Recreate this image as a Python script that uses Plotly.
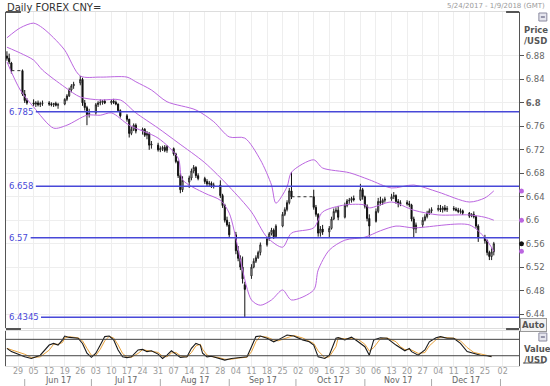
import pandas as pd
import plotly.graph_objects as go

# ---------------- DATA ----------------
title_text = "Daily FOREX CNY="
range_text = "5/24/2017 - 1/9/2018 (GMT)"
holidays = ["2017-05-29", "2017-05-30", "2017-10-02", "2017-10-03",
            "2017-10-04", "2017-10-05", "2017-10-06"]

opens = [6.880, 6.876, 6.868, 6.855, 6.815, 6.804, 6.800, 6.798, 6.800, 6.797,
         6.799, 6.800, 6.798, 6.797, 6.799, 6.796, 6.798, 6.806, 6.812, 6.822,
         6.829, 6.834, 6.840, 6.800, 6.792, 6.780, 6.783, 6.797, 6.800, 6.801,
         6.803, 6.800, 6.803, 6.801, 6.798, 6.787, 6.778, 6.772, 6.748, 6.755,
         6.762, 6.752, 6.755, 6.745, 6.748, 6.728, 6.728, 6.720, 6.722, 6.724,
         6.719, 6.722, 6.713, 6.700, 6.676, 6.652, 6.665, 6.672, 6.684, 6.690,
         6.676, 6.671, 6.666, 6.662, 6.663, 6.659, 6.660, 6.642, 6.625, 6.600,
         6.592, 6.575, 6.548, 6.535, 6.520, 6.490, 6.505, 6.520, 6.530, 6.536,
         6.545, 6.558, 6.568, 6.577, 6.583, 6.572, 6.590, 6.610, 6.618, 6.630,
         6.650, 6.640, 6.622, 6.610, 6.578, 6.585, 6.580, 6.586, 6.602, 6.615,
         6.617, 6.605, 6.625, 6.633, 6.634, 6.637, 6.635, 6.652, 6.640, 6.624,
         6.603, 6.598, 6.615, 6.632, 6.630, 6.634, 6.636, 6.640, 6.642, 6.632,
         6.628, 6.630, 6.628, 6.626, 6.602, 6.585, 6.592, 6.600, 6.606, 6.612,
         6.616, 6.618, 6.620, 6.618, 6.621, 6.618, 6.620, 6.619, 6.617, 6.615,
         6.616, 6.612, 6.607, 6.610, 6.606, 6.590, 6.570, 6.565, 6.545, 6.538,
         6.546]
highs = [6.888, 6.884, 6.870, 6.857, 6.822, 6.808, 6.806, 6.803, 6.804, 6.802,
         6.804, 6.803, 6.801, 6.800, 6.802, 6.800, 6.808, 6.815, 6.826, 6.832,
         6.836, 6.846, 6.843, 6.805, 6.795, 6.790, 6.800, 6.803, 6.806, 6.805,
         6.806, 6.806, 6.807, 6.804, 6.799, 6.789, 6.781, 6.773, 6.760, 6.765,
         6.765, 6.758, 6.757, 6.752, 6.750, 6.735, 6.732, 6.726, 6.727, 6.728,
         6.728, 6.724, 6.715, 6.702, 6.680, 6.675, 6.676, 6.688, 6.694, 6.692,
         6.680, 6.674, 6.670, 6.667, 6.666, 6.664, 6.668, 6.645, 6.628, 6.606,
         6.597, 6.580, 6.556, 6.540, 6.538, 6.495, 6.525, 6.535, 6.540, 6.548,
         6.562, 6.572, 6.580, 6.587, 6.586, 6.593, 6.614, 6.622, 6.634, 6.655,
         6.682, 6.652, 6.626, 6.612, 6.590, 6.592, 6.590, 6.606, 6.620, 6.622,
         6.624, 6.630, 6.636, 6.638, 6.640, 6.642, 6.662, 6.655, 6.642, 6.627,
         6.610, 6.620, 6.638, 6.640, 6.637, 6.640, 6.645, 6.648, 6.644, 6.636,
         6.634, 6.634, 6.633, 6.628, 6.606, 6.596, 6.605, 6.610, 6.616, 6.620,
         6.622, 6.626, 6.626, 6.624, 6.626, 6.624, 6.624, 6.622, 6.621, 6.620,
         6.618, 6.614, 6.612, 6.615, 6.608, 6.593, 6.575, 6.567, 6.548, 6.552,
         6.563]
lows = [6.872, 6.866, 6.850, 6.812, 6.800, 6.797, 6.795, 6.793, 6.794, 6.793,
        6.795, 6.795, 6.794, 6.793, 6.794, 6.790, 6.796, 6.803, 6.810, 6.818,
        6.824, 6.830, 6.795, 6.787, 6.762, 6.775, 6.780, 6.793, 6.796, 6.797,
        6.798, 6.797, 6.798, 6.796, 6.785, 6.775, 6.768, 6.741, 6.745, 6.752,
        6.748, 6.746, 6.742, 6.738, 6.720, 6.722, 6.717, 6.716, 6.718, 6.716,
        6.715, 6.710, 6.697, 6.672, 6.646, 6.648, 6.655, 6.668, 6.680, 6.672,
        6.668, 6.662, 6.658, 6.657, 6.655, 6.654, 6.638, 6.621, 6.596, 6.589,
        6.570, 6.542, 6.530, 6.515, 6.492, 6.4345, 6.500, 6.518, 6.527, 6.534,
        6.540, 6.555, 6.565, 6.574, 6.568, 6.570, 6.588, 6.607, 6.615, 6.627,
        6.636, 6.618, 6.606, 6.572, 6.572, 6.575, 6.570, 6.584, 6.600, 6.612,
        6.600, 6.603, 6.622, 6.628, 6.630, 6.632, 6.633, 6.635, 6.620, 6.598,
        6.572, 6.596, 6.612, 6.625, 6.626, 6.630, 6.633, 6.636, 6.628, 6.622,
        6.624, 6.625, 6.622, 6.598, 6.570, 6.578, 6.588, 6.598, 6.603, 6.609,
        6.612, 6.615, 6.614, 6.613, 6.615, 6.614, 6.616, 6.615, 6.612, 6.611,
        6.609, 6.604, 6.605, 6.603, 6.586, 6.563, 6.560, 6.540, 6.532, 6.532,
        6.540]
closes = [6.876, 6.870, 6.855, 6.815, 6.804, 6.800, 6.798, 6.800, 6.797, 6.799,
          6.800, 6.798, 6.797, 6.799, 6.796, 6.797, 6.806, 6.812, 6.822, 6.829,
          6.832, 6.840, 6.800, 6.792, 6.780, 6.782, 6.797, 6.800, 6.801, 6.803,
          6.800, 6.803, 6.801, 6.798, 6.787, 6.778, 6.772, 6.748, 6.755, 6.762,
          6.752, 6.755, 6.745, 6.748, 6.728, 6.730, 6.720, 6.722, 6.724, 6.719,
          6.726, 6.713, 6.700, 6.676, 6.652, 6.668, 6.672, 6.684, 6.690, 6.676,
          6.671, 6.666, 6.662, 6.663, 6.659, 6.660, 6.642, 6.625, 6.600, 6.592,
          6.575, 6.548, 6.535, 6.520, 6.500, 6.482, 6.520, 6.530, 6.536, 6.545,
          6.558, 6.568, 6.577, 6.583, 6.572, 6.590, 6.610, 6.618, 6.630, 6.650,
          6.640, 6.622, 6.610, 6.578, 6.585, 6.580, 6.586, 6.602, 6.615, 6.617,
          6.605, 6.625, 6.633, 6.634, 6.637, 6.635, 6.652, 6.640, 6.624, 6.603,
          6.590, 6.615, 6.632, 6.630, 6.634, 6.636, 6.640, 6.642, 6.632, 6.628,
          6.630, 6.628, 6.626, 6.602, 6.585, 6.592, 6.600, 6.606, 6.612, 6.616,
          6.618, 6.620, 6.618, 6.621, 6.618, 6.620, 6.619, 6.617, 6.615, 6.616,
          6.612, 6.607, 6.610, 6.606, 6.590, 6.570, 6.565, 6.545, 6.538, 6.546,
          6.560]

upper_dates = ["2017-05-24", "2017-05-30", "2017-06-05", "2017-06-09", "2017-06-14",
               "2017-06-19", "2017-06-26", "2017-07-05", "2017-07-17", "2017-07-21",
               "2017-07-28", "2017-08-04", "2017-08-17", "2017-08-25", "2017-09-01",
               "2017-09-08", "2017-09-15", "2017-09-20", "2017-09-22", "2017-09-27",
               "2017-09-29", "2017-10-09", "2017-10-13", "2017-10-25", "2017-11-03",
               "2017-11-13", "2017-11-23", "2017-12-04", "2017-12-18", "2017-12-25",
               "2017-12-29"]
upper_band = [6.911, 6.928, 6.936, 6.928, 6.911, 6.890, 6.846, 6.844, 6.844, 6.836,
              6.822, 6.802, 6.788, 6.768, 6.742, 6.740, 6.703, 6.660, 6.629, 6.657,
              6.682, 6.703, 6.689, 6.681, 6.669, 6.655, 6.660, 6.648, 6.631, 6.638,
              6.650]

mid_dates = ["2017-05-24", "2017-05-30", "2017-06-05", "2017-06-09", "2017-06-19",
             "2017-06-26", "2017-07-05", "2017-07-14", "2017-07-21", "2017-07-31",
             "2017-08-09", "2017-08-21", "2017-09-01", "2017-09-11", "2017-09-18",
             "2017-09-25", "2017-09-29", "2017-10-09", "2017-10-13", "2017-10-23",
             "2017-11-01", "2017-11-03", "2017-11-13", "2017-11-23", "2017-12-04",
             "2017-12-18", "2017-12-25", "2017-12-29"]
mid_band = [6.895, 6.885, 6.873, 6.856, 6.827, 6.810, 6.805, 6.805, 6.783, 6.757,
            6.732, 6.698, 6.657, 6.614, 6.571, 6.554, 6.578, 6.587, 6.614, 6.626,
            6.626, 6.621, 6.631, 6.617, 6.609, 6.609, 6.605, 6.600]

lower_dates = ["2017-05-24", "2017-05-30", "2017-06-05", "2017-06-14", "2017-06-20",
               "2017-06-29", "2017-07-05", "2017-07-10", "2017-07-18", "2017-07-31",
               "2017-08-09", "2017-08-11", "2017-08-21", "2017-08-28", "2017-09-01",
               "2017-09-11", "2017-09-15", "2017-09-20", "2017-09-25", "2017-09-29",
               "2017-10-09", "2017-10-11", "2017-10-16", "2017-10-23", "2017-11-01",
               "2017-11-08", "2017-11-15", "2017-11-23", "2017-12-18", "2017-12-25",
               "2017-12-29"]
lower_band = [6.870, 6.822, 6.793, 6.757, 6.762, 6.779, 6.779, 6.783, 6.762, 6.740,
              6.706, 6.669, 6.646, 6.634, 6.612, 6.464, 6.455, 6.464, 6.481, 6.464,
              6.481, 6.515, 6.549, 6.566, 6.571, 6.582, 6.590, 6.587, 6.592, 6.570,
              6.547]

level_values = [6.785, 6.658, 6.57, 6.4345]
level_labels = ["6.785", "6.658", "6.57", "6.4345"]

ytick_vals = [6.44, 6.48, 6.52, 6.56, 6.60, 6.64, 6.68, 6.72, 6.76, 6.80, 6.84, 6.88]
ytick_text = ["6.44", "6.48", "6.52", "6.56", "6.6", "6.64", "6.68", "6.72", "6.76",
              "<b>6.8</b>", "6.84", "6.88"]

week_tick_dates = ["2017-05-29", "2017-06-05", "2017-06-12", "2017-06-19", "2017-06-26",
                   "2017-07-03", "2017-07-10", "2017-07-17", "2017-07-24", "2017-07-31",
                   "2017-08-07", "2017-08-14", "2017-08-21", "2017-08-28", "2017-09-04",
                   "2017-09-11", "2017-09-18", "2017-09-25", "2017-10-02", "2017-10-09",
                   "2017-10-16", "2017-10-23", "2017-10-30", "2017-11-06", "2017-11-13",
                   "2017-11-20", "2017-11-27", "2017-12-04", "2017-12-11", "2017-12-18",
                   "2017-12-25", "2018-01-02"]
week_tick_labels = ["29", "05", "12", "19", "26", "03", "10", "17", "24", "31",
                    "07", "14", "21", "28", "04", "11", "18", "25", "02", "09",
                    "16", "23", "30", "06", "13", "20", "27", "04", "11", "18",
                    "25", "02"]

stoch_dates = ["2017-05-24", "2017-05-26", "2017-06-01", "2017-06-04", "2017-06-08",
               "2017-06-12", "2017-06-14", "2017-06-16", "2017-06-18", "2017-06-19",
               "2017-06-21", "2017-06-25", "2017-06-27", "2017-06-29", "2017-07-01",
               "2017-07-03", "2017-07-05", "2017-07-07", "2017-07-09", "2017-07-11",
               "2017-07-13", "2017-07-15", "2017-07-17", "2017-07-19", "2017-07-22",
               "2017-07-24", "2017-07-26", "2017-07-28", "2017-07-31", "2017-08-02",
               "2017-08-04", "2017-08-06", "2017-08-08", "2017-08-10", "2017-08-13",
               "2017-08-15", "2017-08-17", "2017-08-19", "2017-08-20", "2017-08-22",
               "2017-08-24", "2017-08-27", "2017-08-30", "2017-09-02", "2017-09-05",
               "2017-09-09", "2017-09-11", "2017-09-13", "2017-09-15", "2017-09-18",
               "2017-09-21", "2017-09-23", "2017-09-27", "2017-09-30", "2017-10-04",
               "2017-10-07", "2017-10-09", "2017-10-11", "2017-10-14", "2017-10-16",
               "2017-10-19", "2017-10-20", "2017-10-23", "2017-10-26", "2017-10-29",
               "2017-11-01", "2017-11-03", "2017-11-05", "2017-11-08", "2017-11-11",
               "2017-11-15", "2017-11-17", "2017-11-19", "2017-11-21", "2017-11-22",
               "2017-11-25", "2017-11-28", "2017-11-30", "2017-12-03", "2017-12-05",
               "2017-12-08", "2017-12-11", "2017-12-14", "2017-12-17", "2017-12-20",
               "2017-12-23", "2017-12-26", "2017-12-28"]
stoch_k = [47, 35, 16, 10, 22, 59, 65, 59, 78, 92,
           87, 84, 65, 29, 14, 29, 59, 90, 92, 78,
           41, 16, 13, 16, 41, 43, 35, 38, 26, 10,
           22, 38, 26, 14, 16, 47, 65, 59, 29, 16,
           18, 10, 4, 10, 13, 16, 53, 90, 92, 84,
           71, 78, 96, 92, 78, 71, 59, 16, 10, 22,
           84, 86, 78, 88, 71, 53, 22, 78, 86, 84,
           59, 47, 38, 47, 35, 22, 41, 71, 86, 90,
           84, 84, 65, 35, 29, 22, 20, 16]
stoch_levels = [20, 80]

month_labels = ["Jun 17", "Jul 17", "Aug 17", "Sep 17", "Oct 17", "Nov 17", "Dec 17"]
month_starts = ["2017-06-01", "2017-07-01", "2017-08-01", "2017-09-01", "2017-10-01",
                "2017-11-01", "2017-12-01", "2018-01-01"]

# ---------------- GEOMETRY HELPERS ----------------
W, H = 550, 386
ML, MR, MT, MB = 5, 29, 12, 20
PW, PH = W - ML - MR, H - MT - MB


def px_x(p):
    return (p - ML) / PW


def px_y(p):
    return (H - MB - p) / PH


FONT = "DejaVu Sans"
LEVEL_COLOR = "#4848d8"
BAND_COLOR = "#bb66e0"

dates = [d for d in pd.bdate_range("2017-05-24", "2017-12-29")
         if d.strftime("%Y-%m-%d") not in holidays]
assert len(dates) == len(closes) == len(opens) == len(highs) == len(lows)

fig = go.Figure()

# Bollinger-like bands
for bx, by in [(upper_dates, upper_band), (mid_dates, mid_band), (lower_dates, lower_band)]:
    fig.add_trace(go.Scatter(x=bx, y=by, mode="lines", xaxis="x", yaxis="y",
                             line=dict(color=BAND_COLOR, width=1, shape="spline", smoothing=0.8),
                             hoverinfo="skip", showlegend=False))

# dotted lines across holidays
for i in range(len(dates) - 1):
    if (dates[i + 1] - dates[i]).days > 3:
        fig.add_trace(go.Scatter(x=[dates[i], dates[i + 1]], y=[closes[i], opens[i + 1]],
                                 mode="lines", xaxis="x", yaxis="y",
                                 line=dict(color="#333333", width=1, dash="dot"),
                                 hoverinfo="skip", showlegend=False))

fig.add_trace(go.Candlestick(
    x=dates, open=opens, high=highs, low=lows, close=closes,
    xaxis="x", yaxis="y", whiskerwidth=0,
    increasing=dict(line=dict(color="#222222", width=1), fillcolor="#ffffff"),
    decreasing=dict(line=dict(color="#111111", width=1), fillcolor="#111111"),
    showlegend=False))

# stochastic panel
stoch_d = pd.Series(stoch_k, dtype=float).rolling(2, min_periods=1).mean().tolist()
fig.add_trace(go.Scatter(x=stoch_dates, y=stoch_d, mode="lines", xaxis="x2", yaxis="y2",
                         line=dict(color="#e8a23c", width=1), showlegend=False, hoverinfo="skip"))
fig.add_trace(go.Scatter(x=stoch_dates, y=stoch_k, mode="lines", xaxis="x2", yaxis="y2",
                         line=dict(color="#1a1a1a", width=1.1), showlegend=False, hoverinfo="skip"))

shapes = []
annotations = []

# level lines with labels
for val, lab in zip(level_values, level_labels):
    x0 = px_x(6 + len(lab) * 5.2 + 3)
    shapes.append(dict(type="line", xref="paper", yref="y", x0=x0, x1=1, y0=val, y1=val,
                       line=dict(color=LEVEL_COLOR, width=1.5)))
    annotations.append(dict(xref="paper", yref="y", x=px_x(6), y=val, text=lab,
                            showarrow=False, xanchor="left", yanchor="middle",
                            font=dict(family=FONT, size=8.5, color=LEVEL_COLOR)))

# stochastic level lines
for lv in stoch_levels:
    shapes.append(dict(type="line", xref="paper", yref="y2", x0=0, x1=1, y0=lv, y1=lv,
                       line=dict(color="#444444", width=1)))

# corner marks
for xa, xb, yy in [(5, 20, 12), (508, 521, 12), (5, 20, 329), (508, 521, 329)]:
    shapes.append(dict(type="line", xref="paper", yref="paper", x0=px_x(xa), x1=px_x(xb),
                       y0=px_y(yy), y1=px_y(yy), line=dict(color="#555555", width=2)))

# right-side end markers
rx = px_x(523.5)
rdx = 2.5 / PW
rdy = 2.5 / 586.4
for val, col in [(upper_band[-1], BAND_COLOR), (mid_band[-1], BAND_COLOR),
                 (lower_band[-1], BAND_COLOR), (closes[-1], "#111111")]:
    shapes.append(dict(type="circle", xref="paper", yref="y", x0=rx - rdx, x1=rx + rdx,
                       y0=val - rdy, y1=val + rdy, fillcolor=col, line=dict(color=col, width=0)))

# small collapse icons
for yc in [17, 337]:
    shapes.append(dict(type="rect", xref="paper", yref="paper", x0=px_x(541), x1=px_x(549),
                       y0=px_y(yc + 4), y1=px_y(yc - 4), fillcolor="#e6e6ee",
                       line=dict(color="#8a8aa0", width=1)))
    shapes.append(dict(type="line", xref="paper", yref="paper", x0=px_x(543), x1=px_x(547),
                       y0=px_y(yc), y1=px_y(yc), line=dict(color="#444466", width=1)))

# underline for Value /USD
shapes.append(dict(type="line", xref="paper", yref="paper", x0=px_x(525), x1=px_x(546),
                   y0=px_y(363), y1=px_y(363), line=dict(color="#555555", width=1)))

# month separators
for ms in month_starts:
    shapes.append(dict(type="line", xref="x2", yref="paper", x0=ms, x1=ms,
                       y0=px_y(386), y1=px_y(379), line=dict(color="#aaaaaa", width=1)))

# month labels
for i, lab in enumerate(month_labels):
    a = pd.Timestamp(month_starts[i])
    b = pd.Timestamp(month_starts[i + 1])
    annotations.append(dict(xref="x2", yref="paper", x=a + (b - a) / 2, y=px_y(386.5), text=lab,
                            showarrow=False, xanchor="center", yanchor="bottom",
                            font=dict(family=FONT, size=8, color="#666666")))

annotations += [
    dict(xref="paper", yref="paper", x=px_x(4), y=px_y(0), text=title_text, showarrow=False,
         xanchor="left", yanchor="top", font=dict(family=FONT, size=10, color="#333333")),
    dict(xref="paper", yref="paper", x=px_x(549), y=px_y(0.5), text=range_text, showarrow=False,
         xanchor="right", yanchor="top", font=dict(family=FONT, size=7, color="#9a9a9a")),
    dict(xref="paper", yref="paper", x=px_x(524), y=px_y(23), text="<b>Price<br>/USD</b>",
         showarrow=False, xanchor="left", yanchor="top", align="left",
         font=dict(family=FONT, size=8.5, color="#555555")),
    dict(xref="paper", yref="paper", x=px_x(536), y=px_y(325), text="<b>Auto</b>",
         showarrow=False, xanchor="center", yanchor="middle", bordercolor="#999999",
         borderwidth=1, borderpad=1, bgcolor="#f2f2f2",
         font=dict(family=FONT, size=8.5, color="#555555")),
    dict(xref="paper", yref="paper", x=px_x(524), y=px_y(342), text="<b>Value<br>/USD</b>",
         showarrow=False, xanchor="left", yanchor="top", align="left",
         font=dict(family=FONT, size=8.5, color="#555555")),
]

fig.update_layout(
    width=W, height=H,
    margin=dict(l=ML, r=MR, t=MT, b=MB),
    paper_bgcolor="white", plot_bgcolor="white",
    showlegend=False,
    font=dict(family=FONT, size=9, color="#666666"),
    xaxis=dict(type="date", domain=[0, 1], anchor="y",
               range=["2017-05-23 14:00", "2018-01-09 08:00"],
               tickvals=week_tick_dates, showticklabels=False, ticks="",
               showgrid=True, gridcolor="#eeeeee", gridwidth=1,
               showline=True, linecolor="#dddddd", mirror=True,
               rangeslider=dict(visible=False), fixedrange=True),
    yaxis=dict(domain=[px_y(328), 1], anchor="x", side="right",
               range=[6.4162, 6.955], tickvals=ytick_vals, ticktext=ytick_text,
               ticks="outside", ticklen=4, tickcolor="#555555",
               tickfont=dict(family=FONT, size=8.5, color="#666666"),
               showgrid=True, gridcolor="#eeeeee", zeroline=False,
               showline=True, linecolor="#555555", mirror=True),
    xaxis2=dict(type="date", domain=[0, 1], anchor="y2", matches="x",
                tickvals=week_tick_dates, ticktext=week_tick_labels, ticks="",
                tickfont=dict(family=FONT, size=8, color="#9a9a9a"),
                ticklabelstandoff=-3,
                showgrid=True, gridcolor="#eeeeee",
                showline=True, linecolor="#dddddd", mirror=True,
                rangeslider=dict(visible=False)),
    yaxis2=dict(domain=[0, px_y(331)], anchor="x2", side="right",
                range=[-17.6, 110.5], showticklabels=False, ticks="",
                showgrid=False, zeroline=False,
                showline=True, linecolor="#555555", mirror=True),
    shapes=shapes,
    annotations=annotations,
)

fig.write_html("out.html", config={"displayModeBar": False},
               post_script="document.body.style.margin='0';")
